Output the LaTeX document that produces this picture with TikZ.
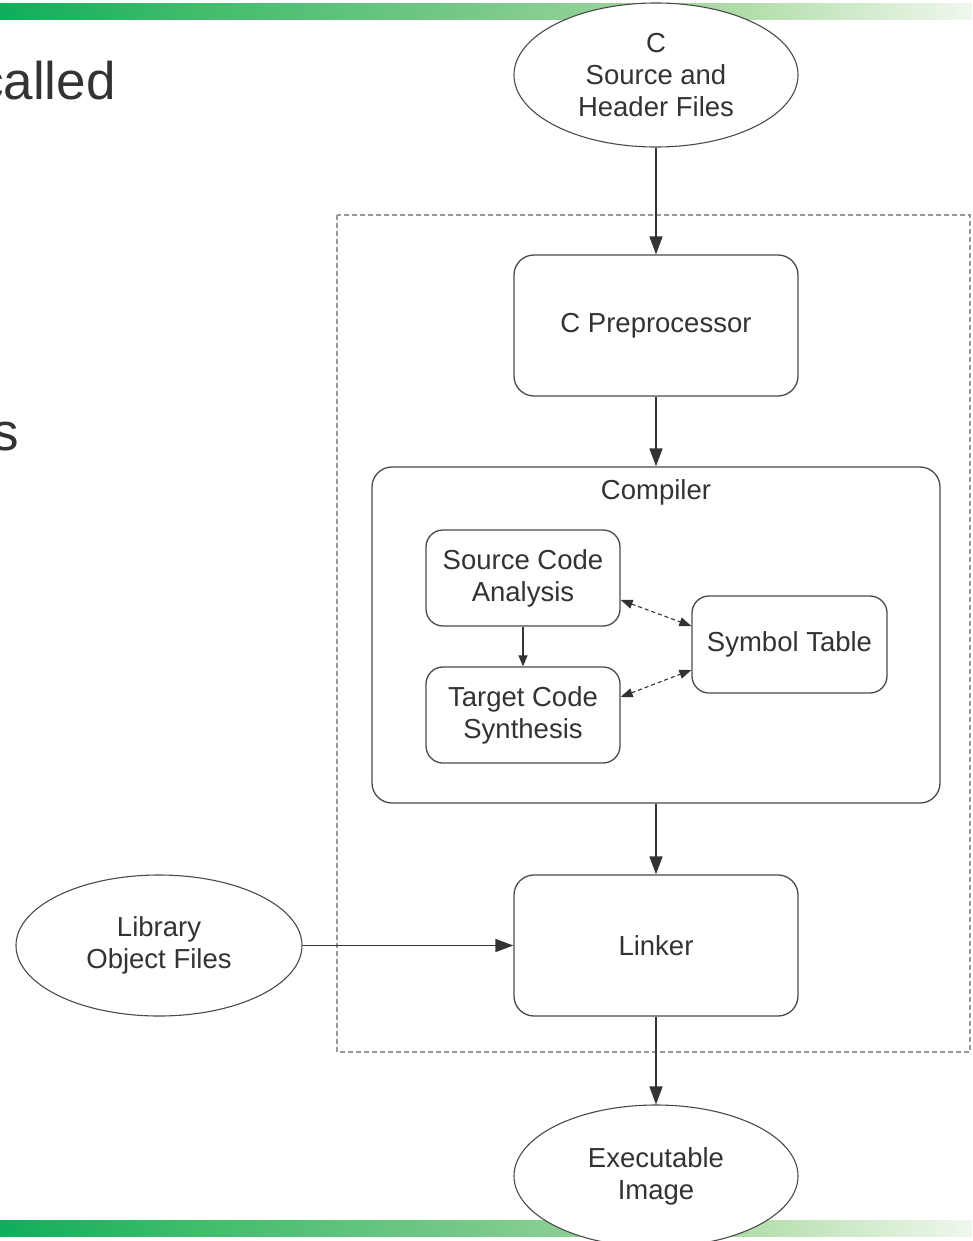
\documentclass[tikz,border=0pt]{standalone}
\usepackage{fontspec}
\setmainfont{Liberation Sans}
\usetikzlibrary{arrows.meta,shapes.geometric}
\definecolor{txt}{HTML}{333333}
\definecolor{edge}{HTML}{4A4A4A}
\definecolor{dashgray}{HTML}{999999}
\pgfdeclarehorizontalshading{greenbar}{100bp}{rgb(0bp)=(0.06,0.68,0.36); rgb(25bp)=(0.06,0.68,0.36); rgb(35bp)=(0.25,0.74,0.42); rgb(50bp)=(0.48,0.79,0.54); rgb(62.5bp)=(0.68,0.86,0.65); rgb(75bp)=(0.94,0.97,0.93); rgb(100bp)=(0.94,0.97,0.93)}
\tikzset{
  lbl/.style={font=\fontsize{27.5}{32}\selectfont, text=txt, align=center},
  procbox/.style={lbl, draw=edge, line width=1.3pt, fill=white, rounded corners=20pt, inner sep=0pt},
  subbox/.style={lbl, draw=edge, line width=1.3pt, fill=white, rounded corners=17pt, inner sep=0pt},
  datanode/.style={lbl, ellipse, draw=edge, line width=1.1pt, fill=white, inner sep=0pt},
  flow/.style={draw=txt, line width=1.4pt, -{Triangle[length=18pt,width=13pt]}},
  smallflow/.style={draw=txt, line width=1.2pt, -{Triangle[length=11pt,width=9pt]}},
  dataflow/.style={draw=txt, line width=1.1pt, dash pattern=on 4pt off 3pt, {Triangle[length=12pt,width=9pt]}-{Triangle[length=12pt,width=9pt]}},
  bigtext/.style={font=\fontsize{53}{60}\selectfont, text=txt, inner sep=0pt}
}
\begin{document}
\begin{tikzpicture}[x=1pt,y=-1pt]
\useasboundingbox (0,0) rectangle (972,1241);
\fill[white] (0,0) rectangle (972,1241);
% gradient bars
\shade[shading=greenbar] (0,4) rectangle (972,20);
\shade[shading=greenbar] (0,1220) rectangle (972,1236);
% slide text fragments
\node[bigtext, anchor=base west] (wcalled) at (-23,100) {called};
\node[bigtext, anchor=base west] (wsfrag) at (-8,450) {s};
% dashed boundary
\draw[dashgray, line width=1.3pt, dash pattern=on 5pt off 3pt] (337,215) rectangle (970,1052);
% nodes
\node[datanode, minimum width=284pt, minimum height=144pt] (src) at (656,75) {C\\Source and\\Header Files};
\node[procbox, minimum width=284pt, minimum height=141pt] (pre) at (656,325.5) {C Preprocessor};
\node[procbox, minimum width=568pt, minimum height=336pt] (comp) at (656,635) {};
\node[lbl] (complbl) at (656,492) {Compiler};
\node[subbox, minimum width=194pt, minimum height=96pt] (sca) at (523,578) {Source Code\\Analysis};
\node[subbox, minimum width=194pt, minimum height=96pt] (tcs) at (523,715) {Target Code\\Synthesis};
\node[subbox, minimum width=195pt, minimum height=97pt] (sym) at (789.5,644.5) {Symbol Table};
\node[procbox, minimum width=284pt, minimum height=141pt] (link) at (656,945.5) {Linker};
\node[datanode, minimum width=286pt, minimum height=141pt] (lib) at (159,945.5) {Library\\Object Files};
\node[datanode, minimum width=284pt, minimum height=142pt] (exe) at (656,1176) {Executable\\Image};
% connectors
\draw[flow] (src.south) -- (pre.north);
\draw[flow] (pre.south) -- (comp.north);
\draw[smallflow] (sca.south) -- (tcs.north);
\draw[dataflow] ([yshift=-22pt]sca.east) -- ([yshift=18.5pt]sym.west);
\draw[dataflow] ([yshift=18pt]tcs.east) -- ([yshift=-25.5pt]sym.west);
\draw[flow] (comp.south) -- (link.north);
\draw[flow] (lib.east) -- (link.west);
\draw[flow] (link.south) -- (exe.north);
\end{tikzpicture}
\end{document}
